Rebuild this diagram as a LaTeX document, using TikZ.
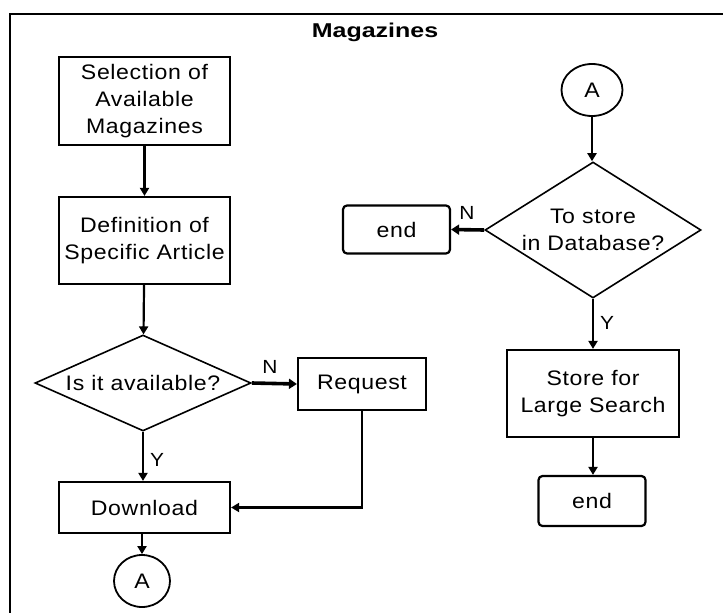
\documentclass[tikz,border=0pt]{standalone}
\usepackage{fontspec}
\setmainfont{Liberation Sans}[FakeStretch=1.1,LetterSpace=3]
\newfontfamily\titlefont{Liberation Sans}[FakeStretch=1.25]
\usetikzlibrary{shapes.geometric,arrows.meta}
\begin{document}
\begin{tikzpicture}[x=1pt,y=-1pt,
  txt/.style={font=\fontsize{21}{27}\selectfont, align=center},
  box/.style={txt, draw, line width=2.2pt, inner sep=0pt},
  endbox/.style={box, rounded corners=4pt},
  dec/.style={txt, draw, line width=1.6pt, shape=diamond, inner sep=0pt},
  conn/.style={txt, draw, line width=1.8pt, shape=ellipse, inner sep=0pt},
  flow/.style={line width=2.2pt, -{Triangle[width=9pt,length=8pt]}},
  thickflow/.style={line width=3.6pt, -{Triangle[width=10pt,length=8pt]}},
  lbl/.style={font=\fontsize{19}{20}\selectfont, inner sep=0pt}
]
\useasboundingbox (0,0) rectangle (723,613);
\fill[white] (0,0) rectangle (723,613);
\begin{scope}
\clip (0,0) rectangle (723,613);
\draw[line width=2.6pt] (10,640) -- (10,14) -- (740,14);
\end{scope}
\node[font=\titlefont\bfseries\fontsize{20}{20}\selectfont] (title) at (375,32) {Magazines};

\node[box, minimum width=171pt, minimum height=88pt] (sel) at (144.5,101) {Selection of\\Available\\Magazines};
\node[box, minimum width=171pt, minimum height=87pt] (def) at (144.5,240.5) {Definition of\\Specific Article};
\node[dec, minimum width=216pt, minimum height=96pt, aspect=2.25] (avail) at (143,383) {Is it available?};
\node[box, minimum width=128pt, minimum height=52pt] (req) at (362,384) {Request};
\node[box, minimum width=171pt, minimum height=51pt] (dl) at (144.5,507.5) {Download};
\node[conn, minimum width=56pt, minimum height=52pt] (a1) at (142,581) {A};

\node[conn, minimum width=61pt, minimum height=52pt] (a2) at (592,90) {A};
\node[dec, minimum width=216pt, minimum height=136pt, aspect=1.59] (store) at (593,230) {To store\\in Database?};
\node[endbox, minimum width=107pt, minimum height=48pt] (end1) at (396.5,229.5) {end};
\node[box, minimum width=172pt, minimum height=87pt] (large) at (593,393.5) {Store for\\Large Search};
\node[endbox, minimum width=107pt, minimum height=50pt] (end2) at (592,501) {end};

\draw[flow] (sel) -- (def);
\draw[flow] (def) -- (avail);
\draw[thickflow] (avail.east) -- (req.west);
\node[lbl] (n1) at (270,367) {N};
\draw[flow] (avail.south) -- (dl.north -| avail.south);
\node[lbl] (y1) at (157,460) {Y};
\draw[flow] (req.south) |- (dl.east);
\draw[flow] (dl.south -| a1.north) -- (a1.north);

\draw[flow] (a2.south) -- (store.north -| a2.south);
\draw[thickflow] (store.west) -- (end1.east);
\node[lbl] (n2) at (467,213) {N};
\draw[flow] (store.south) -- (large.north -| store.south);
\node[lbl] (y2) at (607,323) {Y};
\draw[flow] (large.south) -- (end2.north -| large.south);
\end{tikzpicture}
\end{document}
